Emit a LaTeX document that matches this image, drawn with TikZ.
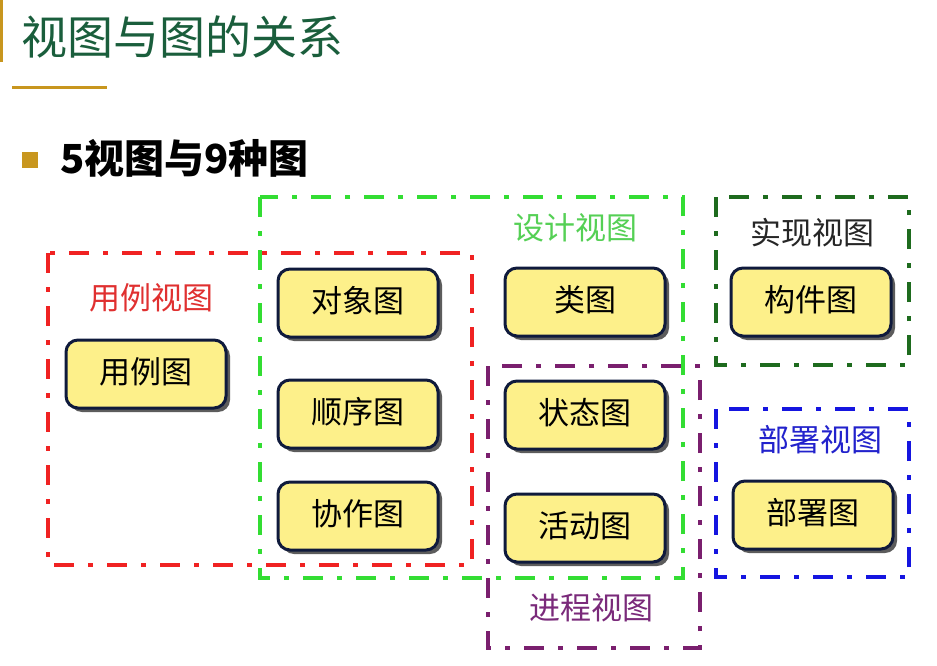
\documentclass[tikz,border=0pt]{standalone}
\usepackage{fontspec}
\setmainfont{Noto Sans CJK SC}
\usetikzlibrary{shadows}
\definecolor{navyline}{HTML}{0F1A3C}
\definecolor{boxyellow}{HTML}{FDF08A}
\definecolor{titlegreen}{HTML}{1A5E3C}
\definecolor{gold}{HTML}{C8961E}
\definecolor{fred}{HTML}{F02222}
\definecolor{fgreen}{HTML}{33DD33}
\definecolor{fpurple}{HTML}{7A1F6E}
\definecolor{fdkgreen}{HTML}{1E6B1E}
\definecolor{fblue}{HTML}{1515E0}
\definecolor{lred}{HTML}{E03030}
\definecolor{lgreen}{HTML}{55D055}
\definecolor{lpurple}{HTML}{7A2A7A}
\definecolor{lblue}{HTML}{2222CC}
\tikzset{
  x=1pt, y=-1pt,
  diagbox/.style={draw=navyline, line width=3pt, fill=boxyellow, rounded corners=12pt,
    minimum width=160pt, minimum height=68pt, inner sep=0pt,
    font=\fontsize{31}{34}\selectfont, text height=23pt, text depth=5pt,
    drop shadow={shadow xshift=4pt, shadow yshift=-4pt, fill=black!75, opacity=0.85}},
  viewframe/.style={line width=4.5pt, dash pattern=on 20pt off 14pt on 5pt off 14pt},
  viewlabel/.style={font=\fontsize{31}{34}\selectfont, inner sep=0pt}
}
\begin{document}
\begin{tikzpicture}
\useasboundingbox[fill=white] (0,0) rectangle (937,666);
% header
\fill[gold] (0,0) rectangle (3,62);
\fill[gold] (12,86.5) rectangle (107,89.5);
\node[anchor=west, text=titlegreen, font=\fontsize{46}{48}\selectfont, inner sep=0pt] (title) at (21,37) {视图与图的关系};
\fill[gold] (22,152) rectangle (38,168);
\node[anchor=west, font=\fontsize{40}{42}\selectfont\bfseries, inner sep=0pt] (sub) at (60,158) {5视图与9种图};
% frames
\draw[viewframe, fred] (48,253) rectangle (472,565);
\draw[viewframe, fgreen] (260,197) rectangle (683,578);
\draw[viewframe, fpurple] (488,366) rectangle (700,648);
\draw[viewframe, fdkgreen] (716,197) rectangle (909,365);
\draw[viewframe, fblue] (716,409) rectangle (909,577);
% labels
\node[viewlabel, text=lred] (lab1) at (151,298) {用例视图};
\node[viewlabel, text=lgreen] (lab2) at (575,228) {设计视图};
\node[viewlabel, text=black!85] (lab3) at (812,233) {实现视图};
\node[viewlabel, text=lblue] (lab4) at (820,440) {部署视图};
\node[viewlabel, text=lpurple] (lab5) at (591,608) {进程视图};
% diagram boxes
\node[diagbox] (usecase) at (146,374) {用例图};
\node[diagbox] (object) at (358,303) {对象图};
\node[diagbox] (sequence) at (358,414) {顺序图};
\node[diagbox] (collab) at (358,516) {协作图};
\node[diagbox] (class) at (585,302) {类图};
\node[diagbox] (state) at (585,415) {状态图};
\node[diagbox] (activity) at (585,528) {活动图};
\node[diagbox] (component) at (811,302) {构件图};
\node[diagbox] (deploy) at (813,515) {部署图};
\end{tikzpicture}
\end{document}
